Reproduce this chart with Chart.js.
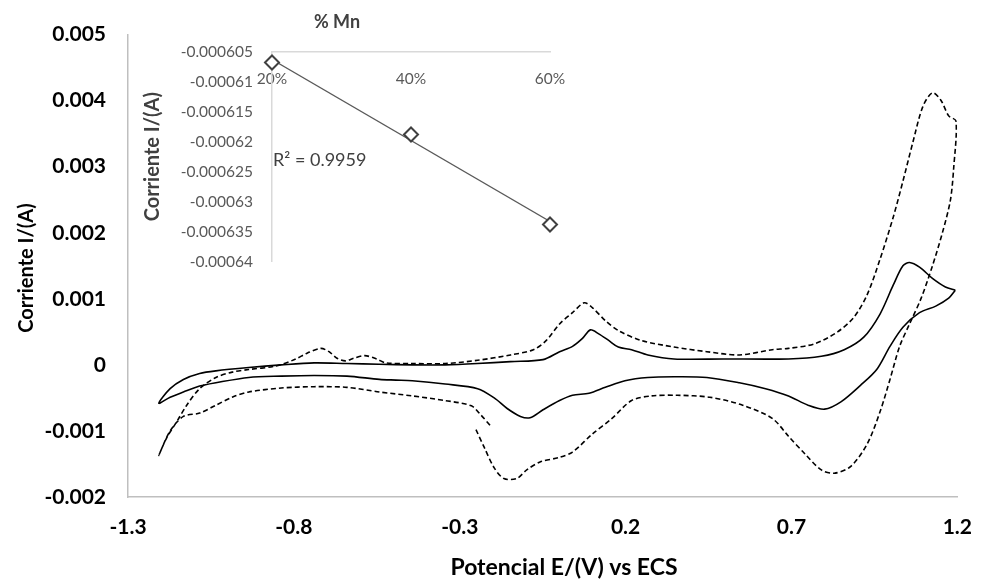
<!DOCTYPE html>
<html lang="es">
<head>
<meta charset="utf-8">
<title>Voltametría cíclica</title>
<script src="https://cdn.jsdelivr.net/npm/chart.js@4.4.1/dist/chart.umd.min.js"></script>
<style>
  html, body { margin: 0; padding: 0; background: #fff; }
  #marco { position: relative; width: 990px; height: 583px; }
  #principal { position: absolute; left: 0; top: 0; }
  #recuadro { position: absolute; left: 130px; top: 0; }
</style>
</head>
<body>
<div id="marco">
  <canvas id="principal" width="990" height="583"></canvas>
  <canvas id="recuadro" width="460" height="290"></canvas>
</div>
<script>
// Curva continua: barrido catódico desde 1.2 V y vuelta anódica
const potencialContinua = [1.194, 1.174, 1.135, 1.086, 1.036, 0.997, 0.957, 0.908, 0.849, 0.800, 0.750, 0.691, 0.622, 0.543, 0.445, 0.346, 0.267, 0.198, 0.139, 0.090, 0.040, 0.001, -0.049, -0.088, -0.117, -0.157, -0.196, -0.246, -0.344, -0.443, -0.492, -0.542, -0.640, -0.739, -0.838, -0.936, -1.035, -1.084, -1.133, -1.173, -1.207,
  -1.173, -1.133, -1.084, -1.035, -0.936, -0.838, -0.739, -0.640, -0.543, -0.443, -0.344, -0.247, -0.147, -0.049, 0.001, 0.040, 0.070, 0.094, 0.119, 0.149, 0.178, 0.218, 0.267, 0.346, 0.494, 0.691, 0.790, 0.859, 0.918, 0.967, 1.007, 1.036, 1.056, 1.086, 1.125, 1.164, 1.194];
const corrienteContinua = [0.00113, 0.00101, 0.00089, 0.00079, 0.00057, 0.00028, -0.00007, -0.00031, -0.00056, -0.00067, -0.00061, -0.00047, -0.00036, -0.00027, -0.00019, -0.00018, -0.00019, -0.00024, -0.00034, -0.00043, -0.00046, -0.00054, -0.00068, -0.00080, -0.00078, -0.00066, -0.00050, -0.00036, -0.00029, -0.00024, -0.00023, -0.00022, -0.00017, -0.00016, -0.00017, -0.00019, -0.00027, -0.00032, -0.00041, -0.00049, -0.00058,
  -0.00036, -0.00022, -0.00013, -0.00009, -0.00004, 0, 0.00003, 0.00002, 0.00001, 0, 0, 0.00002, 0.00005, 0.00008, 0.00020, 0.00028, 0.00040, 0.00053, 0.00047, 0.00037, 0.00027, 0.00023, 0.00015, 0.00009, 0.00009, 0.00009, 0.00013, 0.00023, 0.00042, 0.00077, 0.00121, 0.00150, 0.00155, 0.00148, 0.00131, 0.00118, 0.00113];

// Curva punteada: empieza en -0.25 V y no se cierra
const potencialPunteada = [-0.251, -0.226, -0.196, -0.167, -0.128, -0.098, -0.058, 0.001, 0.040, 0.099, 0.159, 0.218, 0.277, 0.356, 0.454, 0.553, 0.642, 0.691, 0.741, 0.790, 0.829, 0.878, 0.928, 0.967, 0.997, 1.026, 1.056, 1.091, 1.125, 1.155, 1.179, 1.189, 1.196,
  1.174, 1.150, 1.125, 1.096, 1.066, 1.036, 1.007, 0.967, 0.928, 0.888, 0.839, 0.770, 0.691, 0.642, 0.543, 0.445, 0.346, 0.247, 0.178, 0.139, 0.099, 0.075, 0.040, 0.001, -0.039, -0.078, -0.147, -0.246, -0.344, -0.443, -0.522, -0.551, -0.586, -0.620, -0.645, -0.670, -0.694, -0.719, -0.759, -0.798, -0.857, -0.936, -0.986, -1.035, -1.084, -1.123, -1.153, -1.183, -1.207,
  -1.173, -1.133, -1.084, -1.035, -0.986, -0.936, -0.838, -0.739, -0.640, -0.542, -0.443, -0.344, -0.265, -0.236, -0.206];
const corrientePunteada = [-0.00098, -0.00125, -0.00156, -0.00172, -0.00172, -0.00159, -0.00147, -0.00140, -0.00132, -0.00105, -0.00081, -0.00054, -0.00047, -0.00046, -0.00049, -0.00061, -0.00081, -0.00108, -0.00135, -0.00159, -0.00164, -0.00154, -0.00120, -0.00071, -0.00022, 0.00028, 0.00062, 0.00101, 0.00150, 0.00200, 0.00249, 0.00298, 0.00369,
  0.00377, 0.00401, 0.00412, 0.00391, 0.00337, 0.00278, 0.00224, 0.00160, 0.00106, 0.00072, 0.00050, 0.00032, 0.00025, 0.00023, 0.00015, 0.00020, 0.00027, 0.00037, 0.00052, 0.00067, 0.00087, 0.00094, 0.00079, 0.00062, 0.00037, 0.00023, 0.00015, 0.00007, 0.00002, 0.00002, 0.00003, 0.00009, 0.00014, 0.00010, 0.00006, 0.00010, 0.00020, 0.00025, 0.00018, 0.00008, -0.00002, -0.00007, -0.00011, -0.00019, -0.00036, -0.00061, -0.00086, -0.00110, -0.00137,
  -0.00100, -0.00078, -0.00073, -0.00061, -0.00049, -0.00041, -0.00035, -0.00033, -0.00034, -0.00041, -0.00047, -0.00054, -0.00062, -0.00076, -0.00093];

const ticksPotencial = [-1.3, -0.8, -0.3, 0.2, 0.7, 1.2];
const ticksCorriente = [-0.002, -0.001, 0, 0.001, 0.002, 0.003, 0.004, 0.005];

// Recuadro: corriente de pico frente al % de Mn
const porcentajeMn = [20, 40, 60];
const corrienteMn = [-0.0006068, -0.0006188, -0.0006338];
const ticksMn = [20, 40, 60];
const ticksCorrienteMn = [-0.00064, -0.000635, -0.00063, -0.000625, -0.00062, -0.000615, -0.00061, -0.000605];
const textoR2 = 'R\u00B2 = 0.9959';

Chart.defaults.font.family = 'Lato, "Open Sans", sans-serif';

function puntos(xs, ys) {
  return xs.map((x, i) => ({ x: x, y: ys[i] }));
}

// Recta de mínimos cuadrados (línea de tendencia)
function regresionLineal(xs, ys) {
  const n = xs.length;
  const mx = xs.reduce((a, b) => a + b, 0) / n;
  const my = ys.reduce((a, b) => a + b, 0) / n;
  let sxy = 0, sxx = 0;
  xs.forEach((x, i) => {
    sxy += (x - mx) * (ys[i] - my);
    sxx += (x - mx) * (x - mx);
  });
  const m = sxy / sxx;
  return x => my + m * (x - mx);
}

// Textos sueltos (títulos de ejes, R²)
const textosLibres = {
  id: 'textosLibres',
  afterDraw(chart, args, opts) {
    const ctx = chart.ctx;
    (opts.items || []).forEach(t => {
      ctx.save();
      ctx.font = t.font;
      ctx.fillStyle = t.color || '#000';
      ctx.textAlign = t.align || 'center';
      ctx.textBaseline = 'middle';
      ctx.translate(t.x, t.y);
      if (t.rot) ctx.rotate(t.rot);
      ctx.fillText(t.text, 0, 0);
      ctx.restore();
    });
  }
};

const lineaCurva = {
  showLine: true,
  borderColor: '#000',
  borderWidth: 1.6,
  pointRadius: 0,
  tension: 0.3
};

// sin rejilla ni marcas de graduación
const sinRejilla = { display: false, drawTicks: false };

new Chart(document.getElementById('principal'), {
  type: 'scatter',
  data: {
    datasets: [
      Object.assign({ data: puntos(potencialContinua, corrienteContinua) }, lineaCurva),
      Object.assign({ data: puntos(potencialPunteada, corrientePunteada), borderDash: [5, 3] }, lineaCurva)
    ]
  },
  options: {
    responsive: false,
    animation: false,
    layout: { padding: { left: 0, top: 23, right: 18, bottom: 0 } },
    plugins: {
      legend: { display: false },
      tooltip: { enabled: false },
      textosLibres: {
        items: [
          { text: 'Potencial E/(V) vs ECS', x: 564, y: 568, font: 'bold 23px Lato' },
          { text: 'Corriente I/(A)', x: 27, y: 268, rot: -Math.PI / 2, font: 'bold 20px Lato' }
        ]
      }
    },
    scales: {
      x: {
        type: 'linear',
        min: -1.3,
        max: 1.2,
        afterBuildTicks: s => { s.ticks = ticksPotencial.map(v => ({ value: v })); },
        afterFit: s => { s.height = 86; },
        grid: sinRejilla,
        border: { color: '#bfbfbf', width: 1.5 },
        ticks: {
          autoSkip: false,
          maxRotation: 0,
          padding: 18,
          color: '#000',
          font: { size: 21, weight: 'bold' },
          callback: v => Number(v.toFixed(1)).toString()
        }
      },
      y: {
        type: 'linear',
        min: -0.002,
        max: 0.005,
        afterBuildTicks: s => { s.ticks = ticksCorriente.map(v => ({ value: v })); },
        afterFit: s => { s.width = 128; },
        grid: sinRejilla,
        border: { color: '#bfbfbf', width: 1.5 },
        ticks: {
          autoSkip: false,
          padding: 22,
          color: '#000',
          font: { size: 21, weight: 'bold' },
          callback: v => Math.abs(v) < 1e-12 ? '0' : v.toFixed(3)
        }
      }
    }
  },
  plugins: [textosLibres]
});

const tendencia = regresionLineal(porcentajeMn, corrienteMn);

new Chart(document.getElementById('recuadro'), {
  type: 'scatter',
  data: {
    datasets: [
      {
        data: puntos(porcentajeMn, corrienteMn),
        clip: false,
        pointStyle: 'rectRot',
        pointRadius: 7,
        pointBorderWidth: 2,
        pointBorderColor: '#404040',
        pointBackgroundColor: '#fff'
      },
      {
        data: [
          { x: porcentajeMn[0], y: tendencia(porcentajeMn[0]) },
          { x: porcentajeMn[porcentajeMn.length - 1], y: tendencia(porcentajeMn[porcentajeMn.length - 1]) }
        ],
        showLine: true,
        borderColor: '#595959',
        borderWidth: 1.3,
        pointRadius: 0
      }
    ]
  },
  options: {
    responsive: false,
    animation: false,
    layout: { padding: { left: 0, top: 51.7, right: 40, bottom: 17 } },
    plugins: {
      legend: { display: false },
      tooltip: { enabled: false },
      textosLibres: {
        items: [
          { text: '% Mn', x: 207, y: 22, font: 'bold 18px Lato', color: '#404040' },
          { text: textoR2, x: 143, y: 160, align: 'left', font: '18px Lato', color: '#404040' }
        ]
      }
    },
    scales: {
      x: {
        type: 'linear',
        min: 20,
        max: 60,
        position: { y: -0.000605 },
        afterBuildTicks: s => { s.ticks = ticksMn.map(v => ({ value: v })); },
        grid: sinRejilla,
        border: { color: '#d9d9d9', width: 1.5 },
        ticks: {
          autoSkip: false,
          maxRotation: 0,
          padding: 18,
          color: '#595959',
          font: { size: 15.5 },
          callback: v => v + '%'
        }
      },
      y: {
        type: 'linear',
        min: -0.00064,
        max: -0.000605,
        afterBuildTicks: s => { s.ticks = ticksCorrienteMn.map(v => ({ value: v })); },
        afterFit: s => { s.width = 142; },
        grid: sinRejilla,
        border: { color: '#d9d9d9', width: 1.5 },
        ticks: {
          autoSkip: false,
          padding: 19,
          color: '#595959',
          font: { size: 15.5 },
          callback: v => parseFloat(v.toFixed(7)).toString()
        },
        title: {
          display: true,
          text: 'Corriente I/(A)',
          color: '#404040',
          font: { size: 20, weight: 'bold' },
          padding: { top: 11, bottom: 0 }
        }
      }
    }
  },
  plugins: [textosLibres]
});
</script>
</body>
</html>
